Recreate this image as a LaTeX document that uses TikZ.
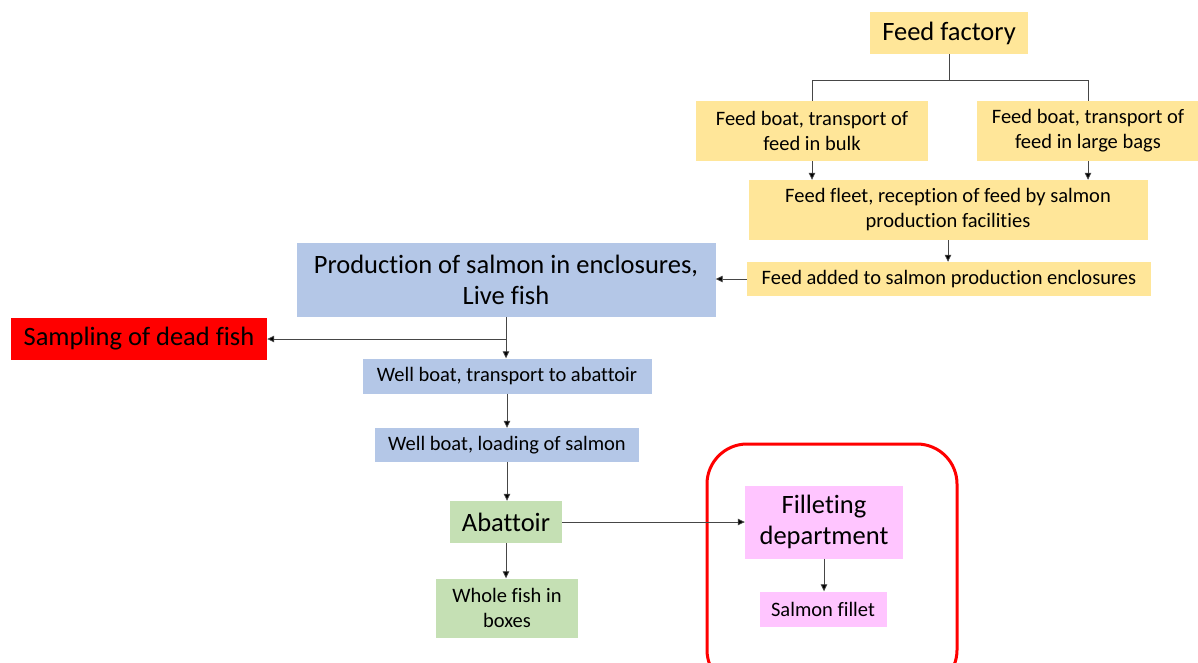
\documentclass[tikz,border=0pt]{standalone}
\usepackage{fontspec}
\setmainfont{Carlito}[Ligatures = NoCommon]
\usetikzlibrary{arrows.meta, positioning}

\definecolor{feedyellow}{RGB}{255,230,153}
\definecolor{fishblue}{RGB}{180,199,231}
\definecolor{slaughtergreen}{RGB}{197,224,180}
\definecolor{filletpink}{RGB}{255,197,255}
\definecolor{linegray}{RGB}{70,70,70}

\begin{document}
\begin{tikzpicture}[x = 1pt, y = -1pt,
    box/.style   = {inner sep = 0pt, align = center,
                    font = \fontsize{20.5}{25}\selectfont},
    bigbox/.style = {box, font = \fontsize{26.5}{31}\selectfont},
    link/.style  = {draw = linegray, line width = 0.8pt},
    arr/.style   = {link, -{Triangle[length = 7pt, width = 6.5pt, fill = black]}}]
    \useasboundingbox (0,0) rectangle (1198,662);

    % feed chain
    \node[bigbox, fill = feedyellow, minimum width = 158pt, minimum height = 42pt]  (factory) at (949,33)  {Feed factory};
    \node[box, fill = feedyellow, minimum width = 232pt, minimum height = 60pt]     (bulk)    at (812,131) {Feed boat, transport of\\feed in bulk};
    \node[box, fill = feedyellow, minimum width = 222pt, minimum height = 60pt]     (bags)    at (1088,131) {Feed boat, transport of\\feed in large bags};
    \node[box, fill = feedyellow, minimum width = 399pt, minimum height = 60pt]     (fleet)   at (948,210) {Feed fleet, reception of feed by salmon\\production facilities};
    \node[box, fill = feedyellow, minimum width = 404pt, minimum height = 34pt]     (added)   at (949,279) {Feed added to salmon production enclosures};

    % salmon chain
    \node[bigbox, fill = fishblue, minimum width = 419pt, minimum height = 74pt]    (prod)    at (506,280) {Production of salmon in enclosures,\\Live fish};
    \node[bigbox, fill = red, minimum width = 256pt, minimum height = 42pt]         (dead)    at (139,339) {Sampling of dead fish};
    \node[box, fill = fishblue, minimum width = 289pt, minimum height = 35pt]       (wellout) at (507,376) {Well boat, transport to abattoir};
    \node[box, fill = fishblue, minimum width = 264pt, minimum height = 34pt]       (wellin)  at (507,445) {Well boat, loading of salmon};
    \node[bigbox, fill = slaughtergreen, minimum width = 112pt, minimum height = 42pt] (abattoir) at (506,522) {Abattoir};
    \node[box, fill = slaughtergreen, minimum width = 142pt, minimum height = 59pt] (whole)   at (507,608) {Whole fish in\\boxes};
    \node[bigbox, fill = filletpink, minimum width = 158pt, minimum height = 73pt]  (filleting) at (824,522) {Filleting\\department};
    \node[box, fill = filletpink, minimum width = 127pt, minimum height = 35pt]     (fillet)  at (823,609) {Salmon fillet};

    % fillet area
    \draw[red, line width = 3pt, rounded corners = 40pt] (707,444) rectangle (957,690);

    \coordinate (split) at (prod.south |- dead.east);

    \draw[link] (factory.south) -- ++(0,26) -| (bulk.north);
    \draw[link] (factory.south) -- ++(0,26) -| (bags.north);
    \draw[arr]  (bulk.south)  -- (bulk.south |- fleet.north);
    \draw[arr]  (bags.south)  -- (bags.south |- fleet.north);
    \draw[arr]  (fleet.south) -- (fleet.south |- added.north);
    \draw[arr]  (added.west)  -- (added.west -| prod.east);
    \draw[arr]  (prod.south)  -- (prod.south |- wellout.north);
    \draw[arr]  (split)       -- (dead.east);
    \draw[arr]  (wellout.south) -- (wellout.south |- wellin.north);
    \draw[arr]  (wellin.south)  -- (wellin.south |- abattoir.north);
    \draw[arr]  (abattoir.south) -- (abattoir.south |- whole.north);
    \draw[arr]  (abattoir.east)  -- (filleting.west);
    \draw[arr]  (filleting.south) -- (filleting.south |- fillet.north);
\end{tikzpicture}
\end{document}
